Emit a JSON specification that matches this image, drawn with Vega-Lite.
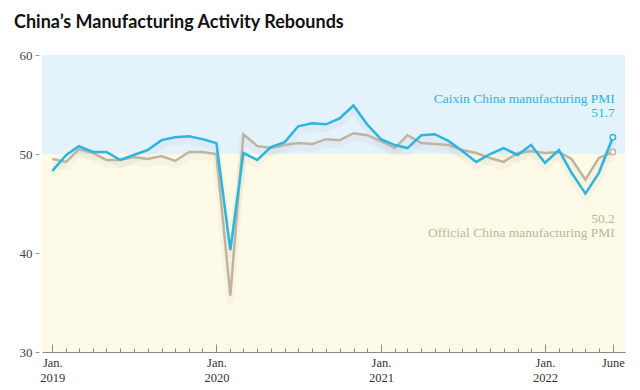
{
  "$schema": "https://vega.github.io/schema/vega-lite/v6.json",
  "width": 583,
  "height": 297,
  "autosize": {"type": "none"},
  "padding": {"left": 42, "top": 55, "right": 15, "bottom": 38},
  "background": "white",
  "title": {
    "text": "China’s Manufacturing Activity Rebounds",
    "anchor": "start",
    "frame": "group",
    "dx": -28,
    "offset": 17,
    "font": "Lato",
    "fontWeight": "bold",
    "fontSize": 18,
    "color": "#111111"
  },
  "config": {
    "view": {"stroke": null},
    "axis": {"labelFont": "Liberation Serif", "titleFont": "Liberation Serif"}
  },
  "datasets": {
    "bands": [
      {"lo": 50, "hi": 60, "zone": "above"},
      {"lo": 30, "hi": 50, "zone": "below"}
    ],
    "pmi": [
      {"date": "2019-01-01", "series": "Official", "value": 49.5},
      {"date": "2019-02-01", "series": "Official", "value": 49.2},
      {"date": "2019-03-01", "series": "Official", "value": 50.5},
      {"date": "2019-04-01", "series": "Official", "value": 50.1},
      {"date": "2019-05-01", "series": "Official", "value": 49.4},
      {"date": "2019-06-01", "series": "Official", "value": 49.4},
      {"date": "2019-07-01", "series": "Official", "value": 49.7},
      {"date": "2019-08-01", "series": "Official", "value": 49.5},
      {"date": "2019-09-01", "series": "Official", "value": 49.8},
      {"date": "2019-10-01", "series": "Official", "value": 49.3},
      {"date": "2019-11-01", "series": "Official", "value": 50.2},
      {"date": "2019-12-01", "series": "Official", "value": 50.2},
      {"date": "2020-01-01", "series": "Official", "value": 50.0},
      {"date": "2020-02-01", "series": "Official", "value": 35.7},
      {"date": "2020-03-01", "series": "Official", "value": 52.0},
      {"date": "2020-04-01", "series": "Official", "value": 50.8},
      {"date": "2020-05-01", "series": "Official", "value": 50.6},
      {"date": "2020-06-01", "series": "Official", "value": 50.9},
      {"date": "2020-07-01", "series": "Official", "value": 51.1},
      {"date": "2020-08-01", "series": "Official", "value": 51.0},
      {"date": "2020-09-01", "series": "Official", "value": 51.5},
      {"date": "2020-10-01", "series": "Official", "value": 51.4},
      {"date": "2020-11-01", "series": "Official", "value": 52.1},
      {"date": "2020-12-01", "series": "Official", "value": 51.9},
      {"date": "2021-01-01", "series": "Official", "value": 51.3},
      {"date": "2021-02-01", "series": "Official", "value": 50.6},
      {"date": "2021-03-01", "series": "Official", "value": 51.9},
      {"date": "2021-04-01", "series": "Official", "value": 51.1},
      {"date": "2021-05-01", "series": "Official", "value": 51.0},
      {"date": "2021-06-01", "series": "Official", "value": 50.9},
      {"date": "2021-07-01", "series": "Official", "value": 50.4},
      {"date": "2021-08-01", "series": "Official", "value": 50.1},
      {"date": "2021-09-01", "series": "Official", "value": 49.6},
      {"date": "2021-10-01", "series": "Official", "value": 49.2},
      {"date": "2021-11-01", "series": "Official", "value": 50.1},
      {"date": "2021-12-01", "series": "Official", "value": 50.3},
      {"date": "2022-01-01", "series": "Official", "value": 50.1},
      {"date": "2022-02-01", "series": "Official", "value": 50.2},
      {"date": "2022-03-01", "series": "Official", "value": 49.5},
      {"date": "2022-04-01", "series": "Official", "value": 47.4},
      {"date": "2022-05-01", "series": "Official", "value": 49.6},
      {"date": "2022-06-01", "series": "Official", "value": 50.2},
      {"date": "2019-01-01", "series": "Caixin", "value": 48.3},
      {"date": "2019-02-01", "series": "Caixin", "value": 49.9},
      {"date": "2019-03-01", "series": "Caixin", "value": 50.8},
      {"date": "2019-04-01", "series": "Caixin", "value": 50.2},
      {"date": "2019-05-01", "series": "Caixin", "value": 50.2},
      {"date": "2019-06-01", "series": "Caixin", "value": 49.4},
      {"date": "2019-07-01", "series": "Caixin", "value": 49.9},
      {"date": "2019-08-01", "series": "Caixin", "value": 50.4},
      {"date": "2019-09-01", "series": "Caixin", "value": 51.4},
      {"date": "2019-10-01", "series": "Caixin", "value": 51.7},
      {"date": "2019-11-01", "series": "Caixin", "value": 51.8},
      {"date": "2019-12-01", "series": "Caixin", "value": 51.5},
      {"date": "2020-01-01", "series": "Caixin", "value": 51.1},
      {"date": "2020-02-01", "series": "Caixin", "value": 40.3},
      {"date": "2020-03-01", "series": "Caixin", "value": 50.1},
      {"date": "2020-04-01", "series": "Caixin", "value": 49.4},
      {"date": "2020-05-01", "series": "Caixin", "value": 50.7},
      {"date": "2020-06-01", "series": "Caixin", "value": 51.2},
      {"date": "2020-07-01", "series": "Caixin", "value": 52.8},
      {"date": "2020-08-01", "series": "Caixin", "value": 53.1},
      {"date": "2020-09-01", "series": "Caixin", "value": 53.0},
      {"date": "2020-10-01", "series": "Caixin", "value": 53.6},
      {"date": "2020-11-01", "series": "Caixin", "value": 54.9},
      {"date": "2020-12-01", "series": "Caixin", "value": 53.0},
      {"date": "2021-01-01", "series": "Caixin", "value": 51.5},
      {"date": "2021-02-01", "series": "Caixin", "value": 50.9},
      {"date": "2021-03-01", "series": "Caixin", "value": 50.6},
      {"date": "2021-04-01", "series": "Caixin", "value": 51.9},
      {"date": "2021-05-01", "series": "Caixin", "value": 52.0},
      {"date": "2021-06-01", "series": "Caixin", "value": 51.3},
      {"date": "2021-07-01", "series": "Caixin", "value": 50.3},
      {"date": "2021-08-01", "series": "Caixin", "value": 49.2},
      {"date": "2021-09-01", "series": "Caixin", "value": 50.0},
      {"date": "2021-10-01", "series": "Caixin", "value": 50.6},
      {"date": "2021-11-01", "series": "Caixin", "value": 49.9},
      {"date": "2021-12-01", "series": "Caixin", "value": 50.9},
      {"date": "2022-01-01", "series": "Caixin", "value": 49.1},
      {"date": "2022-02-01", "series": "Caixin", "value": 50.4},
      {"date": "2022-03-01", "series": "Caixin", "value": 48.1},
      {"date": "2022-04-01", "series": "Caixin", "value": 46.0},
      {"date": "2022-05-01", "series": "Caixin", "value": 48.1},
      {"date": "2022-06-01", "series": "Caixin", "value": 51.7}
    ],
    "notes": [
      {"date": "2022-06-01", "value": 55.6, "label": "Caixin China manufacturing PMI", "series": "Caixin"},
      {"date": "2022-06-01", "value": 54.1, "label": "51.7", "series": "Caixin"},
      {"date": "2022-06-01", "value": 43.4, "label": "50.2", "series": "Official"},
      {"date": "2022-06-01", "value": 42.0, "label": "Official China manufacturing PMI", "series": "Official"}
    ]
  },
  "layer": [
    {
      "data": {"name": "bands"},
      "mark": {"type": "rect"},
      "encoding": {
        "y": {"field": "lo", "type": "quantitative", "scale": {"domain": [30, 60], "nice": false, "zero": false}},
        "y2": {"field": "hi"},
        "fill": {
          "field": "zone", "type": "nominal",
          "scale": {"domain": ["above", "below"], "range": ["#e4f2fb", "#fdfbe7"]},
          "legend": null
        }
      }
    },
    {
      "data": {"name": "pmi"},
      "mark": {"type": "line", "strokeWidth": 8, "yOffset": 4, "opacity": 0.04, "color": "#555555", "strokeJoin": "round"},
      "encoding": {
        "x": {"field": "date", "type": "temporal"},
        "y": {"field": "value", "type": "quantitative"},
        "detail": {"field": "series", "type": "nominal"}
      }
    },
    {
      "data": {"name": "pmi"},
      "mark": {"type": "line", "strokeWidth": 2.5, "strokeJoin": "miter"},
      "encoding": {
        "x": {
          "field": "date", "type": "temporal",
          "scale": {"type": "utc", "domain": [{"year": 2018, "month": 12, "date": 9, "utc": true}, {"year": 2022, "month": 6, "date": 28, "utc": true}]},
          "axis": {
            "title": null,
            "grid": false,
            "zindex": 1,
            "tickCount": {"interval": "month", "step": 1},
            "domainColor": "#8a8a8a",
            "tickColor": "#8a8a8a",
            "tickWidth": 1,
            "tickSize": {"condition": {"test": "utcmonth(datum.value) == 0 || (utcyear(datum.value) == 2022 && utcmonth(datum.value) == 5)", "value": -8}, "value": -4},
            "labelExpr": "utcmonth(datum.value) == 0 ? ['Jan.', '' + utcyear(datum.value)] : ((utcyear(datum.value) == 2022 && utcmonth(datum.value) == 5) ? 'June' : '')",
            "labelOverlap": false,
            "labelFlush": false,
            "labelPadding": 12,
            "labelFontSize": 12.5,
            "labelLineHeight": 15,
            "labelColor": "#333333",
            "labelBaseline": "top"
          }
        },
        "y": {
          "field": "value", "type": "quantitative",
          "axis": {
            "title": null,
            "grid": false,
            "domain": false,
            "values": [30, 40, 50, 60],
            "tickSize": 4,
            "tickColor": "#999999",
            "offset": 3,
            "labelPadding": 3,
            "labelFontSize": 13,
            "labelColor": "#444444"
          }
        },
        "color": {
          "field": "series", "type": "nominal",
          "scale": {"domain": ["Official", "Caixin"], "range": ["#c0b4a0", "#2cb5df"]},
          "legend": null
        }
      }
    },
    {
      "data": {"name": "pmi"},
      "transform": [{"filter": "utcyear(datum.date) == 2022 && utcmonth(datum.date) == 5"}],
      "mark": {"type": "point", "filled": false, "fill": "white", "fillOpacity": 1, "size": 30, "strokeWidth": 1.5, "opacity": 1},
      "encoding": {
        "x": {"field": "date", "type": "temporal"},
        "y": {"field": "value", "type": "quantitative"},
        "stroke": {"field": "series", "type": "nominal", "scale": {"domain": ["Official", "Caixin"], "range": ["#c0b4a0", "#2cb5df"]}, "legend": null}
      }
    },
    {
      "data": {"name": "notes"},
      "mark": {"type": "text", "align": "right", "baseline": "middle", "font": "Liberation Serif", "fontSize": 13.5, "dx": 2},
      "encoding": {
        "x": {"field": "date", "type": "temporal"},
        "y": {"field": "value", "type": "quantitative"},
        "text": {"field": "label"},
        "color": {"field": "series", "type": "nominal", "scale": {"domain": ["Official", "Caixin"], "range": ["#b3a894", "#2cb5df"]}, "legend": null}
      }
    }
  ]
}
